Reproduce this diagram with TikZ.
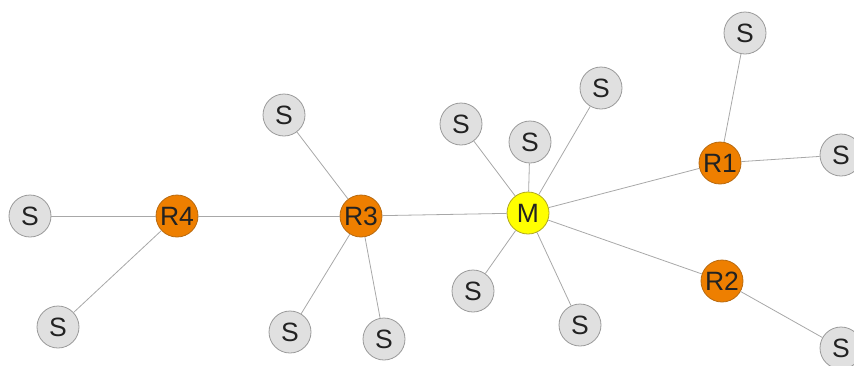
\documentclass[tikz,border=0pt]{standalone}
\usepackage{fontspec}
\setmainfont{Liberation Sans}
\definecolor{sfill}{HTML}{E0E0E0}
\definecolor{sdraw}{HTML}{9A9A9A}
\definecolor{rfill}{HTML}{EE7F00}
\definecolor{rdraw}{HTML}{B86A10}
\definecolor{mfill}{HTML}{FFFF00}
\definecolor{mdraw}{HTML}{B0A820}
\definecolor{edge}{HTML}{A8A8A8}
\definecolor{txt}{HTML}{222222}
\tikzset{
  base/.style={circle, minimum size=42pt, inner sep=0pt, line width=0.8pt, text=txt, font=\fontsize{26.5}{26.5}\selectfont},
  snode/.style={base, fill=sfill, draw=sdraw},
  rnode/.style={base, fill=rfill, draw=rdraw},
  mnode/.style={base, fill=mfill, draw=mdraw},
  link/.style={draw=edge, line width=0.8pt}
}
\begin{document}
\begin{tikzpicture}[x=1pt,y=-1pt]
\useasboundingbox (0,0) rectangle (854,365);
% hubs
\node[mnode] (M) at (528,213) {M};
\node[rnode] (R1) at (720,163) {R1};
\node[rnode] (R2) at (722,281) {R2};
\node[rnode] (R3) at (361,216) {R3};
\node[rnode] (R4) at (177,216) {R4};
% leaves
\node[snode] (s1) at (745,33) {S};
\node[snode] (s2) at (841,155) {S};
\node[snode] (s3) at (841,348) {S};
\node[snode] (s4) at (461,124) {S};
\node[snode] (s5) at (530,142) {S};
\node[snode] (s6) at (601,88) {S};
\node[snode] (s7) at (473,291) {S};
\node[snode] (s8) at (580,325) {S};
\node[snode] (s9) at (284,115) {S};
\node[snode] (s10) at (290,332) {S};
\node[snode] (s11) at (384,339) {S};
\node[snode] (s12) at (30,216) {S};
\node[snode] (s13) at (58,327) {S};
% edges
\path[link] (M) -- (R1);
\path[link] (M) -- (R2);
\path[link] (M) -- (R3);
\path[link] (R3) -- (R4);
\path[link] (R1) -- (s1);
\path[link] (R1) -- (s2);
\path[link] (R2) -- (s3);
\path[link] (M) -- (s4);
\path[link] (M) -- (s5);
\path[link] (M) -- (s6);
\path[link] (M) -- (s7);
\path[link] (M) -- (s8);
\path[link] (R3) -- (s9);
\path[link] (R3) -- (s10);
\path[link] (R3) -- (s11);
\path[link] (R4) -- (s12);
\path[link] (R4) -- (s13);
\end{tikzpicture}
\end{document}
